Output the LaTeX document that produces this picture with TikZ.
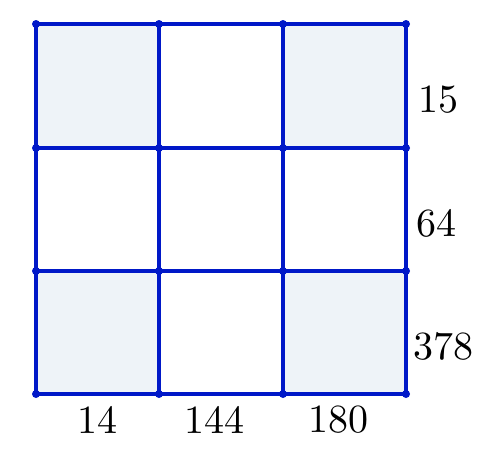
\documentclass[tikz,border=0pt]{standalone}
\usepackage{fontspec}
\setmainfont{lmroman10-regular.otf}
\begin{document}
\begin{tikzpicture}[x=0.75pt,y=-0.75pt,
  gridline/.style={draw=gblue,line width=2.4pt,line cap=round},
  shade/.style={fill=gfill},
  dotpt/.style={fill=gblue},
  lbl/.style={font=\fontsize{30}{36}\selectfont,inner sep=0pt}]
\definecolor{gblue}{RGB}{0,24,200}
\definecolor{gfill}{RGB}{238,243,248}
\useasboundingbox (0,0) rectangle (498,454);
% shaded corner cells
\fill[shade] (36,24) rectangle (159,148);
\fill[shade] (283,24) rectangle (406,148);
\fill[shade] (36,271) rectangle (159,394);
\fill[shade] (283,271) rectangle (406,394);
% grid
\foreach \x in {36,159,283,406} {\draw[gridline] (\x,24) -- (\x,394);}
\foreach \y in {24,148,271,394} {\draw[gridline] (36,\y) -- (406,\y);}
\foreach \x in {36,159,283,406} {\foreach \y in {24,148,271,394} {\fill[dotpt] (\x,\y) circle (3pt);}}
% labels
\node[lbl] (r1) at (438,100) {15};
\node[lbl] (r2) at (436,223) {64};
\node[lbl] (r3) at (443,346) {378};
\node[lbl] (b1) at (97.5,420) {14};
\node[lbl] (b2) at (214.5,420) {144};
\node[lbl] (b3) at (338.5,420) {180};
\end{tikzpicture}
\end{document}
